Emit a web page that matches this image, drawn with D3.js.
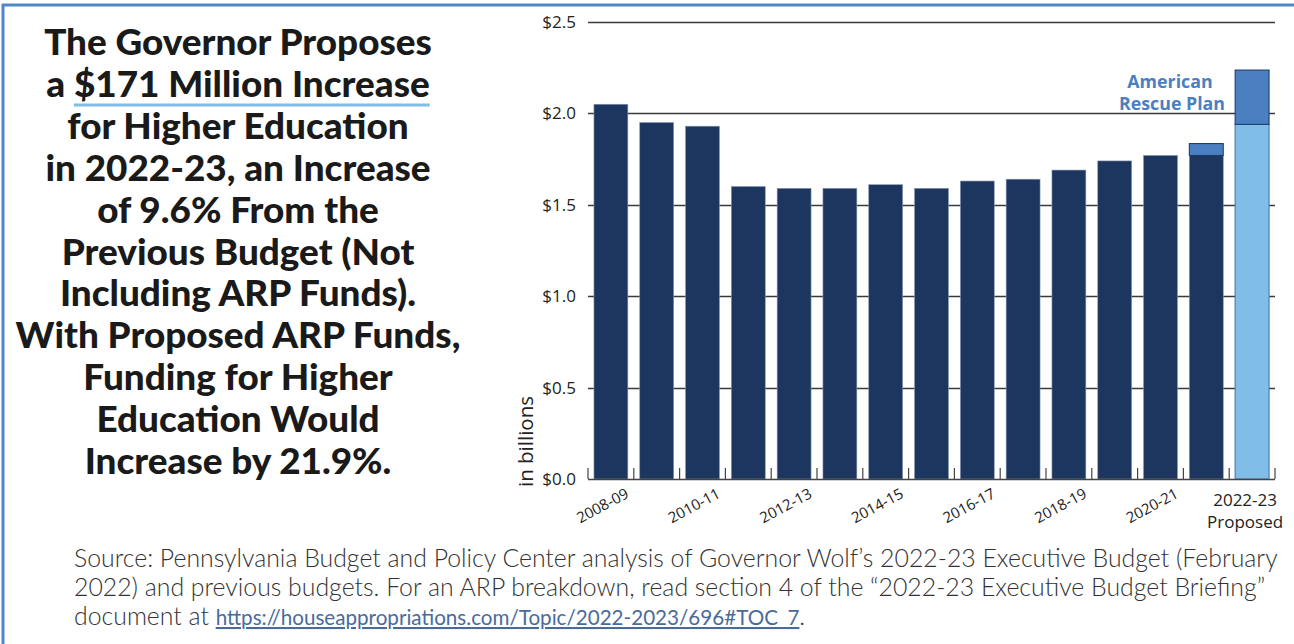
<!DOCTYPE html>
<html>
<head>
<meta charset="utf-8">
<script src="https://cdn.jsdelivr.net/npm/d3@7"></script>
<style>
  html, body { margin: 0; padding: 0; background: #fff; }
  svg { display: block; }
</style>
</head>
<body>
<svg id="chart" width="1294" height="644"></svg>
<script>
// Pennsylvania higher-education funding, in billions of dollars
const categories = ["2008-09", "2009-10", "2010-11", "2011-12", "2012-13", "2013-14", "2014-15",
  "2015-16", "2016-17", "2017-18", "2018-19", "2019-20", "2020-21", "2021-22", "2022-23"];
const baseFunding = [2.05, 1.95, 1.93, 1.60, 1.59, 1.59, 1.61, 1.59, 1.63, 1.64, 1.69, 1.74, 1.77, 1.77, 1.94];
const arpFunding  = [0, 0, 0, 0, 0, 0, 0, 0, 0, 0, 0, 0, 0, 0.065, 0.297];
const proposedYear = "2022-23";
const labeledYears = ["2008-09", "2010-11", "2012-13", "2014-15", "2016-17", "2018-19", "2020-21"];
const yTicks = [0, 0.5, 1.0, 1.5, 2.0, 2.5];

const headlineLines = [
  "The Governor Proposes",
  "a $171 Million Increase",
  "for Higher Education",
  "in 2022-23, an Increase",
  "of 9.6% From the",
  "Previous Budget (Not",
  "Including ARP Funds).",
  "With Proposed ARP Funds,",
  "Funding for Higher",
  "Education Would",
  "Increase by 21.9%."
];
const sourceLines = [
  "Source: Pennsylvania Budget and Policy Center analysis of Governor Wolf\u2019s 2022-23 Executive Budget (February",
  "2022) and previous budgets. For an ARP breakdown, read section 4 of the \u201C2022-23 Executive Budget Briefing\u201D",
  "document at "
];
const sourceLink = "https://houseappropriations.com/Topic/2022-2023/696#TOC_7";

const NAVY = "#1c365f", ARP = "#4a80c2", LIGHT = "#80bee8", FRAME = "#4f88c9";

const svg = d3.select("#chart");

// frame
svg.append("line").attr("x1", 2).attr("x2", 1294).attr("y1", 5).attr("y2", 5)
  .attr("stroke", FRAME).attr("stroke-width", 3);
svg.append("line").attr("x1", 3).attr("x2", 3).attr("y1", 4).attr("y2", 644)
  .attr("stroke", FRAME).attr("stroke-width", 3);

// scales
const x = d3.scaleBand().domain(categories).range([588, 1275]).paddingInner(0.26).paddingOuter(0.13);
const y = d3.scaleLinear().domain([0, 2.5]).range([479, 22]);

// gridlines
svg.append("g").selectAll("line").data(yTicks.filter(d => d > 0)).join("line")
  .attr("x1", 588).attr("x2", 1275)
  .attr("y1", d => Math.round(y(d)) + 0.5).attr("y2", d => Math.round(y(d)) + 0.5)
  .attr("stroke", "#3a3a3a").attr("stroke-width", 1.3);

// y axis labels
const yAxis = svg.append("g").attr("transform", "translate(588,0)")
  .call(d3.axisLeft(y).tickValues(yTicks).tickFormat(d => "$" + d.toFixed(1)).tickSize(0).tickPadding(12));
yAxis.select(".domain").remove();
yAxis.selectAll("text").attr("font-family", "'Open Sans', sans-serif").attr("font-size", 17).attr("fill", "#222");

svg.append("text")
  .attr("transform", "translate(533,487) rotate(-90)")
  .attr("font-family", "'Open Sans', sans-serif").attr("font-size", 20.5).attr("fill", "#222")
  .text("in billions");

// bars
const bars = svg.append("g");
bars.selectAll("rect.base").data(categories).join("rect")
  .attr("class", "base")
  .attr("x", d => x(d)).attr("width", x.bandwidth())
  .attr("y", (d, i) => y(baseFunding[i]))
  .attr("height", (d, i) => y(0) - y(baseFunding[i]))
  .attr("fill", d => d === proposedYear ? LIGHT : NAVY)
  .attr("stroke", d => d === proposedYear ? "#4d7fb3" : "#8796ad")
  .attr("stroke-width", d => d === proposedYear ? 1.2 : 0.6);

bars.selectAll("rect.arp").data(categories.filter((d, i) => arpFunding[i] > 0)).join("rect")
  .attr("class", "arp")
  .attr("x", d => x(d)).attr("width", x.bandwidth())
  .attr("y", d => { const i = categories.indexOf(d); return y(baseFunding[i] + arpFunding[i]); })
  .attr("height", d => { const i = categories.indexOf(d); return y(baseFunding[i]) - y(baseFunding[i] + arpFunding[i]); })
  .attr("fill", ARP).attr("stroke", "#1f3d6b").attr("stroke-width", 1.1);

// baseline and boundary ticks
const gap = x.step() * x.paddingInner();
const boundaries = categories.map(d => x(d) - gap / 2).concat([x(proposedYear) + x.bandwidth() + gap / 2]);
svg.append("line").attr("x1", 588).attr("x2", 1275).attr("y1", y(0) + 0.5).attr("y2", y(0) + 0.5)
  .attr("stroke", "#444").attr("stroke-width", 1.3);
svg.append("g").selectAll("line").data(boundaries).join("line")
  .attr("x1", d => d).attr("x2", d => d).attr("y1", y(0) - 11).attr("y2", y(0))
  .attr("stroke", "#444").attr("stroke-width", 1.2);

// category labels
svg.append("g").selectAll("text").data(labeledYears).join("text")
  .attr("transform", d => `translate(${x(d) + x.bandwidth() + 2},497) rotate(-28)`)
  .attr("text-anchor", "end")
  .attr("font-family", "'Open Sans', sans-serif").attr("font-size", 15).attr("fill", "#222")
  .text(d => d);

const propX = x(proposedYear) + x.bandwidth() / 2 - 7;
const propLabel = svg.append("text").attr("text-anchor", "middle")
  .attr("font-family", "'Open Sans', sans-serif").attr("font-size", 17).attr("fill", "#222");
propLabel.append("tspan").attr("x", propX).attr("y", 506).text(proposedYear);
propLabel.append("tspan").attr("x", propX).attr("y", 528).text("Proposed");

// ARP annotation
const arpLabel = svg.append("text").attr("text-anchor", "middle")
  .attr("font-family", "'Open Sans', sans-serif").attr("font-weight", 700)
  .attr("font-size", 17.8).attr("fill", ARP);
arpLabel.append("tspan").attr("x", 1170).attr("y", 88).text("American");
arpLabel.append("tspan").attr("x", 1172).attr("y", 110).text("Rescue Plan");

// headline
const head = svg.append("g")
  .attr("font-family", "Lato, 'Open Sans', sans-serif").attr("font-weight", 900).attr("fill", "#1a1a1a");
const headTexts = head.selectAll("text").data(headlineLines).join("text")
  .attr("x", 238).attr("y", (d, i) => 55 + i * 41.9)
  .attr("text-anchor", "middle").attr("font-size", 32)
  .text(d => d);
// size so the widest line spans about 445px
let widest = 0;
headTexts.each(function () { widest = Math.max(widest, this.getComputedTextLength()); });
const headSize = 32 * 445 / widest;
headTexts.attr("font-size", headSize);

// underline beneath "$171 Million Increase"
const line2 = headTexts.filter((d, i) => i === 1).node();
const uStart = line2.getStartPositionOfChar(2).x;
const uEnd = line2.getEndPositionOfChar(headlineLines[1].length - 1).x;
head.append("line").attr("x1", uStart).attr("x2", uEnd).attr("y1", 105).attr("y2", 105)
  .attr("stroke", LIGHT).attr("stroke-width", 3.2);

// source note
const src = svg.append("g").attr("font-family", "Lato, 'Open Sans', sans-serif")
  .attr("font-weight", 300).attr("fill", "#333");
const srcTexts = src.selectAll("text").data(sourceLines).join("text")
  .attr("x", 74).attr("y", (d, i) => 567 + i * 29)
  .attr("font-size", 21).text(d => d);
const srcW = srcTexts.filter((d, i) => i === 0).node().getComputedTextLength();
const srcSize = 21 * 1204 / srcW;
srcTexts.attr("font-size", srcSize);
const lastLine = srcTexts.filter((d, i) => i === 2);
lastLine.append("tspan").attr("font-size", srcSize * 0.83).attr("fill", "#4a6a9c")
  .attr("font-weight", 400).attr("text-decoration", "underline").text(sourceLink);
lastLine.append("tspan").text(".");
</script>
</body>
</html>
